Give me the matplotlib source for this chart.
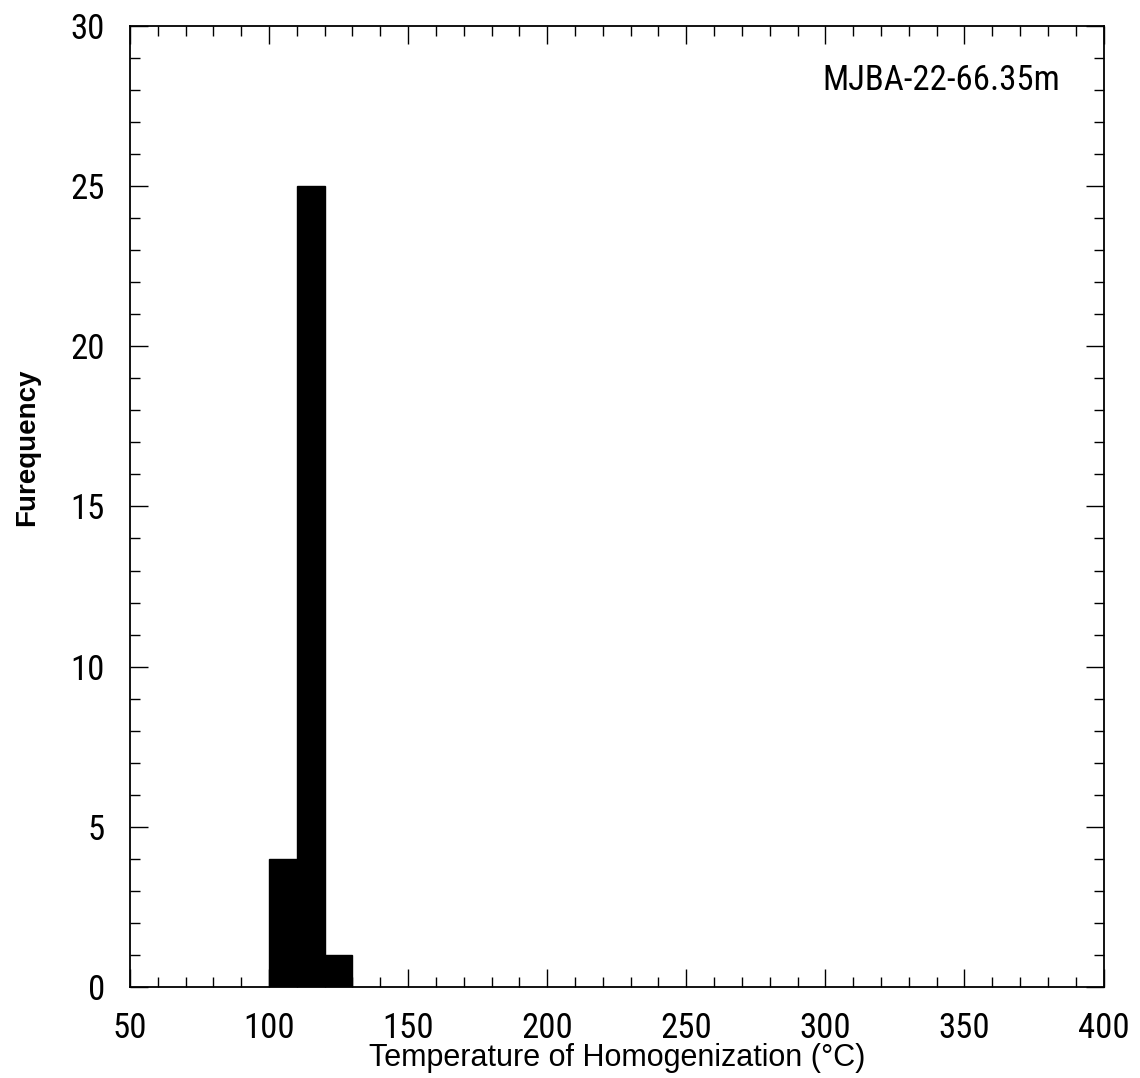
import matplotlib
matplotlib.use('Agg')
import matplotlib.pyplot as plt
from matplotlib.ticker import MultipleLocator

# histogram bins (left edges, degC) and counts
bin_left = [100, 110, 120]
counts = [4, 25, 1]
bin_width = 10
sample = 'MJBA-22-66.35m'

narrow = ['Roboto Condensed', 'Archivo Narrow', 'DejaVu Sans']
plt.rcParams['font.family'] = narrow

fig = plt.figure(figsize=(11.4, 10.78), dpi=100)
ax = fig.add_axes([0.114, 0.0844, 0.854, 0.8916])

ax.bar(bin_left, counts, width=bin_width, align='edge', color='black',
       edgecolor='black', linewidth=1)

ax.set_xlim(50, 400)
ax.set_ylim(0, 30)
ax.xaxis.set_major_locator(MultipleLocator(50))
ax.xaxis.set_minor_locator(MultipleLocator(10))
ax.yaxis.set_major_locator(MultipleLocator(5))
ax.yaxis.set_minor_locator(MultipleLocator(1))

ax.tick_params(which='both', direction='in', top=True, right=True,
               width=1.0, labelsize=25)
ax.tick_params(which='major', length=13, pad=18)
ax.tick_params(which='minor', length=7.5)
for sp in ax.spines.values():
    sp.set_linewidth(1.3)

ax.set_xlabel('Temperature of Homogenization (°C)', fontsize=22,
              family=['Liberation Sans', 'DejaVu Sans'], va='top')
ax.xaxis.set_label_coords(0.5, -0.058)
ax.set_ylabel('Furequency', fontsize=20, fontweight='bold',
              family=['Liberation Sans', 'DejaVu Sans'])
ax.yaxis.set_label_coords(-0.0924, 0.562)

ax.text(0.955, 0.9334, sample, transform=ax.transAxes, ha='right',
        va='baseline', fontsize=25)

fig.savefig('out.png', dpi=100)
